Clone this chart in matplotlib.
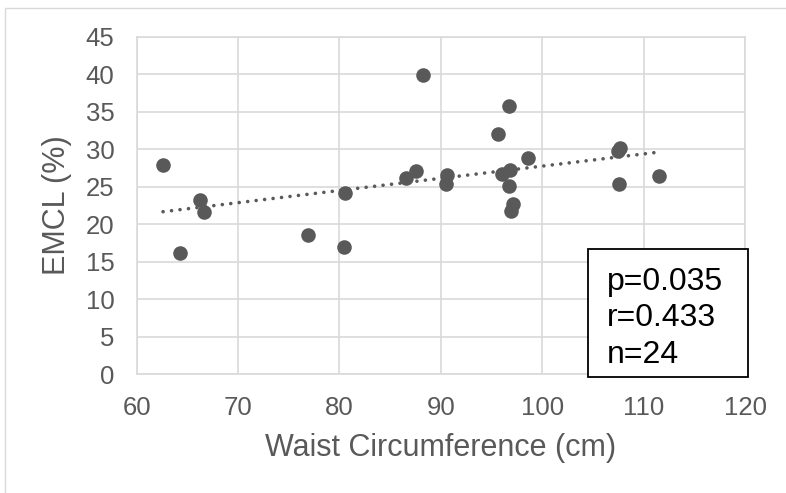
import matplotlib
matplotlib.use("Agg")
import matplotlib.pyplot as plt
import numpy as np
from matplotlib.patches import Rectangle

plt.rcParams['font.family'] = ['Liberation Sans', 'DejaVu Sans']

# waist circumference (cm) vs EMCL (%)
waist = [62.6, 64.3, 66.2, 66.6, 76.9, 80.4, 80.5, 86.6, 87.5, 88.2, 90.5, 90.6,
         95.6, 96.0, 96.7, 96.7, 96.8, 96.9, 97.1, 98.6, 107.5, 107.6, 107.7, 111.5]
emcl = [27.9, 16.2, 23.2, 21.6, 18.5, 16.9, 24.1, 26.1, 27.1, 39.9, 25.3, 26.5,
        32.0, 26.7, 35.7, 25.1, 27.2, 21.7, 22.7, 28.8, 29.8, 25.3, 30.2, 26.4]
stats_lines = ['p=0.035', 'r=0.433', 'n=24']

grey = '#595959'
grid = '#d9d9d9'

fig = plt.figure(figsize=(7.86, 4.93), dpi=100)
ax = fig.add_axes([136.7 / 786, 119 / 493, (745 - 136.7) / 786, (374 - 36.7) / 493])

# outer chart border
fig.patches.append(Rectangle((5 / 786, -0.1), 1, 1.1 - 8 / 493, transform=fig.transFigure,
                             fill=False, edgecolor=grid, linewidth=1))

ax.scatter(waist, emcl, s=110, color=grey, zorder=3, linewidths=0)

# linear trendline over the data range
m, b = np.polyfit(waist, emcl, 1)
xs = np.array([min(waist), max(waist)])
ax.plot(xs, m * xs + b, color=grey, linewidth=2.6, linestyle=(0, (0.01, 2.35)),
        dash_capstyle='round', zorder=2)

ax.set_xlim(60, 120)
ax.set_ylim(0, 45)
ax.set_xticks(np.arange(60, 121, 10))
ax.set_yticks(np.arange(0, 46, 5))
ax.grid(True, color=grid, linewidth=1.2)
ax.set_axisbelow(True)
for s in ax.spines.values():
    s.set_color(grid)
    s.set_linewidth(1.2)
ax.tick_params(length=0, labelsize=18.5, labelcolor=grey, pad=16)
ax.set_xlabel('Waist Circumference (cm)', fontsize=22, color=grey, va='center')
ax.set_ylabel('EMCL (%)', fontsize=22, color=grey, va='center')
ax.xaxis.set_label_coords(0.5, -0.218)
ax.yaxis.set_label_coords(-0.131, 0.5)

# stats box
x0, x1 = (588.3 - 136.7) / 608.3, (748.3 - 136.7) / 608.3
y0, y1 = (374 - 377.3) / 337.3, (374 - 249.3) / 337.3
ax.add_patch(Rectangle((x0, y0), x1 - x0, y1 - y0, transform=ax.transAxes,
                       facecolor='white', edgecolor='black', linewidth=1.3,
                       clip_on=False, zorder=5))
for i, t in enumerate(stats_lines):
    ax.text((607 - 136.7) / 608.3, (374 - 290 - i * 36.4) / 337.3, t,
            transform=ax.transAxes, fontsize=23, color='black',
            ha='left', va='baseline', zorder=6)

fig.savefig('out.png', dpi=100)
